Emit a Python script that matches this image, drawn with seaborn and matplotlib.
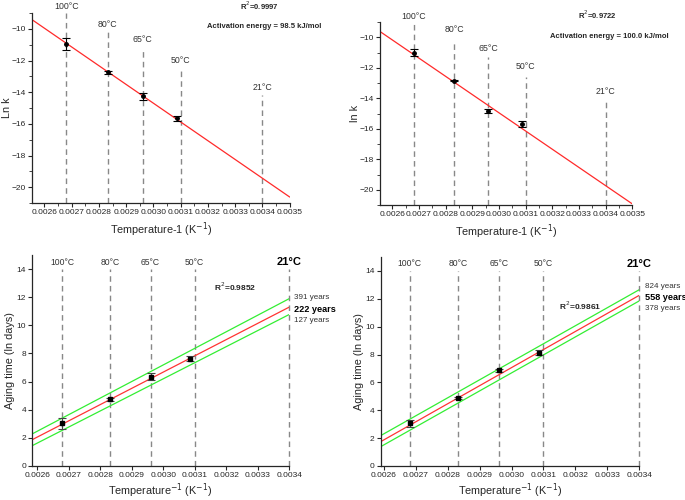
import numpy as np
import pandas as pd
import seaborn as sns
import matplotlib.pyplot as plt
from matplotlib.ticker import MultipleLocator, FormatStrFormatter

# temperatures and their reciprocal (1/K) positions
temp_labels = ['100°C', '80°C', '65°C', '50°C', '21°C']
temp_inv = [0.00268, 0.002832, 0.00296, 0.0031, 0.0034]
point_inv = [0.00268, 0.002832, 0.00296, 0.003085]

# top panels: ln k
lnk_a = [-10.95, -12.75, -14.25, -15.66]
lnk_a_err = [0.40, 0.08, 0.22, 0.15]
lnk_b = [-11.00, -12.84, -14.85, -15.68]
lnk_b_err = [0.20, 0.05, 0.12, 0.20]
fit_a = (-11847, 20.84)   # slope, intercept
fit_b = (-11950, 20.90)
line_top_a = [-9.0, -10.17, -11.2, -12.5, -14.2]
label_y_a = [-8.6, -9.7, -10.7, -12.0, -13.7]
line_top_b = [-9.0, -10.22, -11.27, -12.58, -14.1]
label_y_b = [-8.65, -9.5, -10.76, -11.92, -13.56]

# bottom panels: aging time (ln days)
age_a = [3.03, 4.75, 6.36, 7.64]
age_a_err = [0.40, 0.10, 0.25, 0.15]
age_b = [3.07, 4.87, 6.87, 8.12]
age_b_err = [0.25, 0.06, 0.12, 0.17]
fits_age_a = {'mid': (11544, -27.96), 'up': (11777, -28.15), 'low': (11422, -28.07)}
fits_age_b = {'mid': (12951, -31.79), 'up': (12914, -31.26), 'low': (12901, -32.02)}
years_a = ['391 years', '222 years', '127 years']
years_a_y = [12.0, 11.1, 10.33]
years_b = ['824 years', '558 years', '378 years']
years_b_y = [12.85, 12.08, 11.31]

sns.set_style('ticks')
plt.rcParams['font.family'] = ['Liberation Sans', 'DejaVu Sans']

fig = plt.figure(figsize=(6.85, 5.0), dpi=100)
ax1 = fig.add_axes([0.047, 0.594, 0.376, 0.380])
ax2 = fig.add_axes([0.555, 0.590, 0.368, 0.366])
ax3 = fig.add_axes([0.047, 0.068, 0.375, 0.422])
ax4 = fig.add_axes([0.556, 0.068, 0.377, 0.418])


def style_axes(ax, xlim, ylim, ystep, minor=True):
    ax.set_xlim(*xlim)
    ax.set_ylim(*ylim)
    ax.xaxis.set_major_locator(MultipleLocator(0.0001))
    ax.xaxis.set_major_formatter(FormatStrFormatter('%.4f'))
    ax.yaxis.set_major_locator(MultipleLocator(ystep))
    if minor:
        ax.xaxis.set_minor_locator(MultipleLocator(0.00005))
        ax.yaxis.set_minor_locator(MultipleLocator(ystep / 2))
    ax.tick_params(labelsize=6, length=3, width=0.8, pad=1.5)
    ax.tick_params(which='minor', length=2, width=0.6)
    for s in ['top', 'right']:
        ax.spines[s].set_visible(False)
    for s in ['left', 'bottom']:
        ax.spines[s].set_linewidth(0.9)


def top_panel(ax, y, yerr, fit, tops, labs, ylabel, r2, ea, r2_xy, ea_xy):
    xlim = (0.002555, 0.0035)
    ylim = (-21, -9)
    for xv, t, ly, lab in zip(temp_inv, tops, labs, temp_labels):
        ax.plot([xv, xv], [ylim[0], t], ls=(0, (4, 3)), color='#888888', lw=1, clip_on=False)
        ax.text(xv, ly, lab, ha='center', va='center', fontsize=6.3, color='#333333', clip_on=False)
    xs = np.array(xlim)
    sns.lineplot(x=xs, y=fit[1] + fit[0] * xs, color='#ff2a2a', lw=0.9, ax=ax)
    ax.errorbar(point_inv, y, yerr=yerr, fmt='o', ms=2.5, color='black', ecolor='black',
                capsize=3, elinewidth=0.8, capthick=0.8)
    style_axes(ax, xlim, ylim, 2)
    ax.set_xlabel('Temperature-1 (K$^{-1}$)', fontsize=7.8, labelpad=3)
    ax.set_ylabel(ylabel, fontsize=7.8, labelpad=0)
    ax.text(*r2_xy, r2, transform=fig.transFigure, fontsize=5.5, fontweight='bold',
            ha='left', va='center')
    ax.text(*ea_xy, ea, transform=fig.transFigure, fontsize=5.5, fontweight='bold',
            ha='left', va='center')


def bottom_panel(ax, xlim, y, yerr, fits, years, years_y, r2, r2_xy):
    ylim = (0, 15)
    for xv, lab in zip(temp_inv, temp_labels):
        ax.plot([xv, xv], [0, 14], ls=(0, (4, 3)), color='#888888', lw=1, clip_on=False)
        bold = lab == '21°C'
        ax.text(xv, 14.5, lab, ha='center', va='center',
                fontsize=8 if bold else 6.2, fontweight='bold' if bold else 'normal',
                color='black' if bold else '#333333')
    xs = np.array(xlim)
    sns.lineplot(x=xs, y=fits['up'][1] + fits['up'][0] * xs, color='#33ee33', lw=0.9, ax=ax)
    sns.lineplot(x=xs, y=fits['low'][1] + fits['low'][0] * xs, color='#33ee33', lw=0.9, ax=ax)
    sns.lineplot(x=xs, y=fits['mid'][1] + fits['mid'][0] * xs, color='#ff3333', lw=0.9, ax=ax)
    ax.errorbar(point_inv, y, yerr=yerr, fmt='s', ms=2.5, color='black', ecolor='#444444',
                capsize=3, elinewidth=0.8, capthick=0.8)
    for i, (t, yy) in enumerate(zip(years, years_y)):
        ax.text(0.003417, yy, t, ha='left', va='center', clip_on=False,
                fontsize=6.6 if i == 1 else 5.8, fontweight='bold' if i == 1 else 'normal',
                color='black' if i == 1 else '#333333')
    ax.text(*r2_xy, r2, fontsize=6, fontweight='bold', ha='left', va='center')
    style_axes(ax, xlim, ylim, 2, minor=False)
    ax.set_xlabel('Temperature$^{-1}$ (K$^{-1}$)', fontsize=7.8, labelpad=1.5)
    ax.set_ylabel('Aging time (ln days)', fontsize=7.8, labelpad=1)


top_panel(ax1, lnk_a, lnk_a_err, fit_a, line_top_a, label_y_a, 'Ln k',
          'R$^2$=0.9997', 'Activation energy = 98.5 kJ/mol', (0.350, 0.988), (0.302, 0.946))
top_panel(ax2, lnk_b, lnk_b_err, fit_b, line_top_b, label_y_b, 'ln k',
          'R$^2$=0.9722', 'Activation energy = 100.0 kJ/mol', (0.844, 0.970), (0.803, 0.928))
bottom_panel(ax3, (0.002584, 0.0034), age_a, age_a_err, fits_age_a, years_a, years_a_y,
             'R$^2$=0.9852', (0.00316, 12.75))
bottom_panel(ax4, (0.00259, 0.0034), age_b, age_b_err, fits_age_b, years_b, years_b_y,
             'R$^2$=0.9861', (0.00315, 11.48))

fig.savefig('out.png', dpi=100)
